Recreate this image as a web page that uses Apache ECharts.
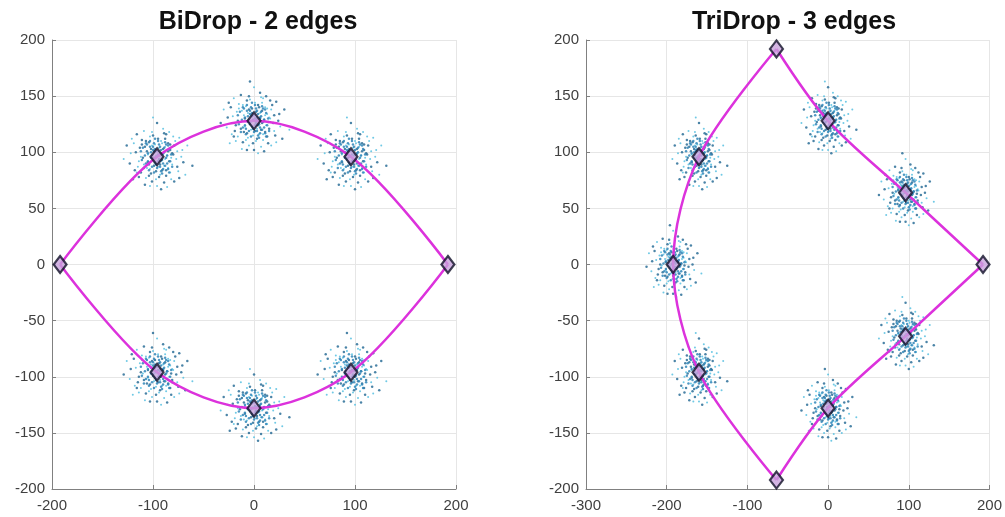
<!DOCTYPE html>
<html>
<head>
<meta charset="utf-8">
<script src="https://cdn.jsdelivr.net/npm/echarts@6/dist/echarts.min.js"></script>
<style>
  html, body { margin: 0; padding: 0; background: #fff; }
  #chart { width: 1005px; height: 517px; }
</style>
</head>
<body>
<div id="chart"></div>
<script>
// constellation points (diamonds)
const biPoints = [[-192, 0], [-96, 96], [0, 128], [96, 96], [192, 0], [96, -96], [0, -128], [-96, -96]];
const triPoints = [[-64, 192], [0, 128], [96, 64], [192, 0], [96, -64], [0, -128], [-64, -192], [-160, -96], [-192, 0], [-160, 96]];

// points that have a cloud of received samples
const biClusters = [[-96, 96], [0, 128], [96, 96], [96, -96], [0, -128], [-96, -96]];
const triClusters = [[0, 128], [96, 64], [96, -64], [0, -128], [-160, -96], [-192, 0], [-160, 96]];

// edges (curves through the points)
const biEdgeTop = [[-192, 0], [-96, 96], [0, 128], [96, 96], [192, 0]];
const biEdgeBottom = [[-192, 0], [-96, -96], [0, -128], [96, -96], [192, 0]];
const triEdgeLeft = [[-64, 192], [-160, 96], [-192, 0], [-160, -96], [-64, -192]];
const triEdgeUpper = [[-64, 192], [0, 128], [96, 64], [192, 0]];
const triEdgeLower = [[192, 0], [96, -64], [0, -128], [-64, -192]];

// sample offsets around each point (read by eye): wide spread + dense core
const noise = [
  [-3, 5], [8, -2], [-12, 9], [4, 14], [15, 3], [-7, -11], [2, -18], [-18, -4], [11, 12], [-5, 22],
  [20, -9], [-1, 1], [6, 7], [-9, 2], [3, -7], [13, -14], [-15, 15], [25, 6], [-22, -12], [0, -26],
  [9, 20], [-4, -3], [17, 10], [-11, -19], [5, -12], [-26, 3], [12, -4], [-2, 11], [7, -23], [-13, -7],
  [1, 16], [22, 17], [-17, 8], [10, 1], [-6, -15], [14, -20], [-20, 20], [3, 3], [-8, 13], [19, -2],
  [-3, -8], [28, -16], [-14, -1], [6, 25], [-24, -20], [11, -10], [-1, -13], [16, 18], [-10, 5], [4, -4],
  [-30, 10], [8, 9], [-5, -22], [21, -13], [-16, -14], [2, 8], [13, 6], [-7, 18], [9, -17], [-19, -9],
  [0, 30], [24, 0], [-12, -25], [5, 12], [-3, -1], [15, -7], [-21, 4], [7, -8], [-9, -5], [18, 14],
  [-4, 19], [10, -27], [-27, -6], [12, 22], [-1, -6], [30, 10], [-15, 11], [3, -16], [-8, -17], [6, 2],
  [-11, 14], [20, 5], [-6, 7], [14, -1], [-18, -18], [1, -9], [8, 16], [-23, 12], [17, -22], [-2, 4],
  [26, -5], [-13, 23], [4, -29], [-33, -2], [11, 5], [-5, 10], [9, -12], [-16, 0], [22, -19], [-7, -26],
  [2, -3], [-10, -10], [16, 2], [-20, -14], [7, 21], [-1, -20], [13, 11], [-25, 16], [35, -8], [-4, 35]
];
const core = [
  [1, 2], [-4, 6], [5, -3], [-2, -5], [7, 4], [-6, -1], [3, 9], [-9, 3], [8, -8], [0, -10],
  [10, 1], [-3, 12], [-11, -6], [4, -13], [12, 7], [-7, 9], [6, -6], [-1, 0], [2, -2], [-5, -9],
  [9, 11], [-12, 1], [13, -4], [-8, -12], [1, 14], [-14, 8], [11, -11], [-2, 7], [6, 3], [-4, -2],
  [3, -9], [-10, 11], [14, 2], [-6, 4], [8, 13], [-13, -10], [0, 5], [5, -15], [-3, -14], [10, -6],
  [-15, -3], [7, 8], [-9, -4], [2, 11], [12, -14], [-1, -7], [4, 6], [-7, 14], [15, -9], [-11, 12],
  [1, -4], [-5, 1], [9, -1], [-2, 16], [6, -11], [-16, 5], [3, 1], [-8, -7], [11, 10], [-4, 9]
];

const xTicksBi = { min: -200, max: 200, interval: 100 };
const xTicksTri = { min: -300, max: 200, interval: 100 };
const yTicks = { min: -200, max: 200, interval: 50 };

function cloud(centers, offsets, shift) {
  const out = [];
  centers.forEach(function (p, k) {
    for (let i = 0; i < offsets.length; i++) {
      const n = offsets[(i + k * shift) % offsets.length];
      out.push([p[0] + n[0], p[1] + n[1]]);
    }
  });
  return out;
}

const font = 'Liberation Sans, Arial, sans-serif';
const axisText = { color: '#404040', fontSize: 15, fontFamily: font };

function xAxis(idx, t) {
  return {
    type: 'value', gridIndex: idx, min: t.min, max: t.max, interval: t.interval,
    axisLine: { onZero: false, lineStyle: { color: '#808080' } },
    axisTick: { inside: true, length: 4, lineStyle: { color: '#808080' } },
    axisLabel: Object.assign({ margin: 9 }, axisText),
    splitLine: { show: true, lineStyle: { color: '#e6e6e6' } }
  };
}
function yAxis(idx) {
  return {
    type: 'value', gridIndex: idx, min: yTicks.min, max: yTicks.max, interval: yTicks.interval,
    axisLine: { show: true, onZero: false, lineStyle: { color: '#808080' } },
    axisTick: { show: true, inside: true, length: 4, lineStyle: { color: '#808080' } },
    axisLabel: Object.assign({ margin: 7 }, axisText),
    splitLine: { show: true, lineStyle: { color: '#e6e6e6' } }
  };
}

function scatter(idx, data, color, size) {
  return {
    type: 'scatter', xAxisIndex: idx, yAxisIndex: idx, data: data,
    symbolSize: size, silent: true, z: 1,
    itemStyle: { color: color, opacity: 0.85 }
  };
}
function edge(idx, data) {
  return {
    type: 'line', xAxisIndex: idx, yAxisIndex: idx, data: data,
    smooth: 0.32, symbol: 'none', z: 3,
    lineStyle: { color: '#dc32dc', width: 2.5 }
  };
}
function marks(idx, data) {
  return {
    type: 'scatter', xAxisIndex: idx, yAxisIndex: idx, data: data,
    symbol: 'diamond', symbolSize: [13, 17], z: 5,
    itemStyle: { color: '#c8a2dc', borderColor: '#101028', borderWidth: 2.2 }
  };
}

const biWide = cloud(biClusters, noise, 13);
const biCore = cloud(biClusters, core, 7);
const triWide = cloud(triClusters, noise, 17);
const triCore = cloud(triClusters, core, 11);

const chart = echarts.init(document.getElementById('chart'));
chart.setOption({
  animation: false,
  title: [
    { text: 'BiDrop - 2 edges', left: 253, top: 5, textAlign: 'center',
      textStyle: { fontSize: 25, fontWeight: 'bold', color: '#111', fontFamily: font } },
    { text: 'TriDrop - 3 edges', left: 789, top: 5, textAlign: 'center',
      textStyle: { fontSize: 25, fontWeight: 'bold', color: '#111', fontFamily: font } }
  ],
  grid: [
    { left: 52, right: 549, top: 40, bottom: 28 },
    { left: 586, right: 13, top: 40, bottom: 28 }
  ],
  xAxis: [xAxis(0, xTicksBi), xAxis(1, xTicksTri)],
  yAxis: [yAxis(0), yAxis(1)],
  series: [
    scatter(0, biWide.filter(function (d, i) { return i % 2 === 0; }), '#2c6f98', 2.5),
    scatter(0, biWide.filter(function (d, i) { return i % 2 === 1; }), '#56bfe0', 2),
    scatter(0, biCore, '#2f86b8', 2.5),
    scatter(1, triWide.filter(function (d, i) { return i % 2 === 0; }), '#2c6f98', 2.5),
    scatter(1, triWide.filter(function (d, i) { return i % 2 === 1; }), '#56bfe0', 2),
    scatter(1, triCore, '#2f86b8', 2.5),
    edge(0, biEdgeTop),
    edge(0, biEdgeBottom),
    edge(1, triEdgeLeft),
    edge(1, triEdgeUpper),
    edge(1, triEdgeLower),
    marks(0, biPoints),
    marks(1, triPoints)
  ]
});
</script>
</body>
</html>
